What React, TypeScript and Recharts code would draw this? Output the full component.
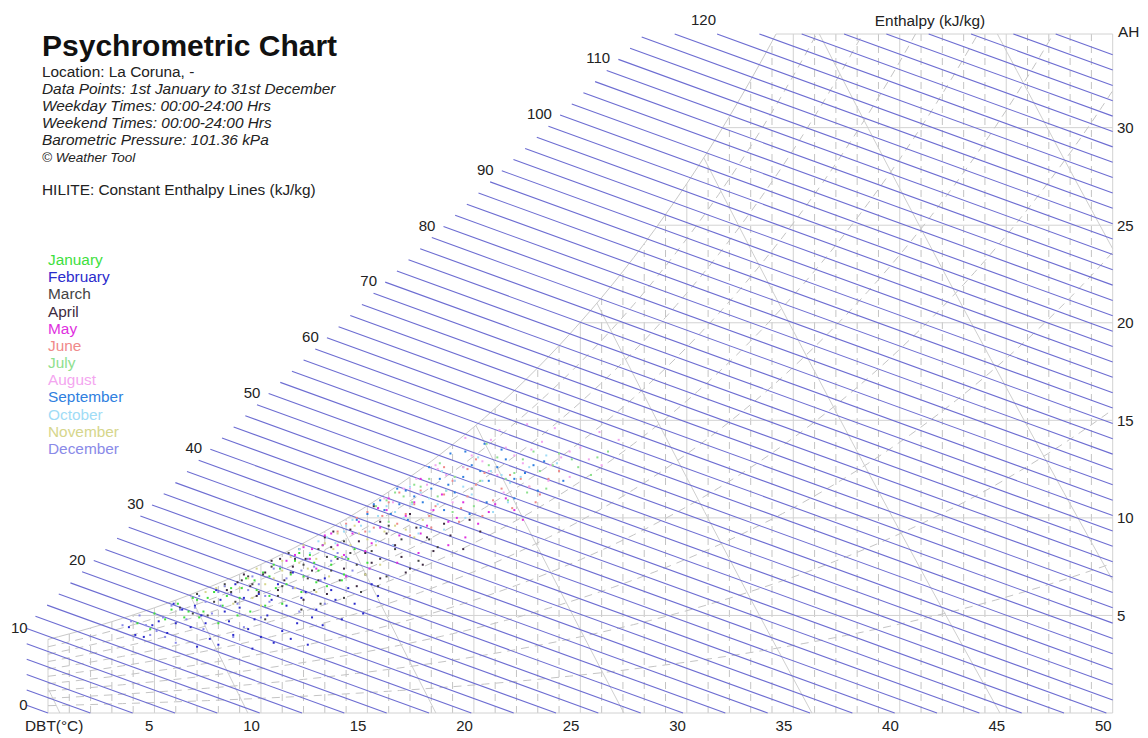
import React from "react";
import { ScatterChart, Scatter, XAxis, YAxis } from "recharts";

const W = 1148;
const H = 738;
const P_ATM = 101.36;
const T_MIN = -1;
const T_MAX = 50;
const W_MAX = 34.8;

const FONT = '"Liberation Sans", Arial, sans-serif';
const ENTH = "#6d6dd2";
const GRID = "#d2d2d2";
const DASHED = "#c4c4c4";
const TXT = 15.4;

const DBT_TICKS = [5, 10, 15, 20, 25, 30, 35, 40, 45, 50];
const AH_TICKS = [5, 10, 15, 20, 25, 30];
const ENTHALPY_LABELS = [0, 10, 20, 30, 40, 50, 60, 70, 80, 90, 100, 110, 120];
const ENTHALPY_STEP = 2;
const ENTHALPY_TOP = 136;
const RH_LEVELS = [10, 20, 30, 40, 50, 60, 70, 80, 90];
const VOLUME_LINES = [0.775, 0.8, 0.825, 0.85, 0.875, 0.9, 0.925, 0.95];

const INFO_LINES = [
  "Data Points: 1st January to 31st December",
  "Weekday Times: 00:00-24:00 Hrs",
  "Weekend Times: 00:00-24:00 Hrs",
  "Barometric Pressure: 101.36 kPa",
];

// [DBT °C, AH g/kg] read off the cloud, roughly
const JAN = [[4.2,4.6],[5.0,5.1],[5.5,4.8],[6.1,5.6],[6.4,4.9],[7.0,5.8],[7.3,5.2],[7.8,6.2],[8.2,5.5],[8.6,6.4],[9.0,5.9],[9.3,6.9],[9.8,6.3],[10.1,7.2],[10.4,6.0],[10.9,7.4],[11.2,6.6],[11.6,7.8],[12.0,7.0],[12.3,8.1],[12.7,7.3],[13.1,6.5],[13.5,8.0],[13.9,7.1],[14.4,8.4],[8.0,4.6],[9.5,5.2],[11.0,5.6],[6.8,5.9],[10.6,7.6],[12.9,8.6],[15.0,7.7],
  [4.8,4.3],[5.8,5.3],[6.6,5.2],[7.5,5.9],[8.4,6.0],[8.9,5.0],[9.7,6.8],[10.2,5.5],[10.7,6.4],[11.4,7.1],[11.9,6.2],[12.5,7.7],[13.3,7.6],[13.8,6.8],[14.1,7.9],[7.1,4.9],[9.1,6.4],[10.4,7.0],[11.8,8.2],[12.6,6.7]];
const FEB = [[3.8,4.4],[4.5,3.9],[5.2,4.7],[5.6,4.1],[6.3,5.3],[6.7,4.4],[7.2,5.0],[7.6,3.8],[8.1,5.8],[8.5,4.7],[9.0,5.4],[9.4,4.3],[9.9,6.1],[10.3,5.0],[10.8,6.6],[11.2,5.5],[11.7,4.6],[12.1,6.2],[12.6,5.3],[13.0,6.9],[13.5,5.8],[14.1,6.4],[14.8,5.1],[7.9,6.3],[10.0,3.9],[11.5,7.2],[5.9,5.6],[8.8,6.6],[15.5,6.0],[12.9,4.5],[9.6,3.3],[12.2,3.5],[7.0,3.4],
  [4.1,4.0],[4.9,4.5],[6.0,4.6],[6.9,5.5],[7.4,4.6],[8.3,5.2],[8.7,4.0],[9.2,5.9],[9.7,4.8],[10.5,5.8],[11.0,4.2],[11.9,5.9],[12.4,4.9],[13.3,6.3],[14.4,5.6],[10.6,3.6],[8.0,3.5],[13.8,4.8],[11.4,3.8],[15.2,6.6]];
const MAR = [[6.2,5.4],[7.0,6.1],[7.5,5.0],[8.3,6.6],[8.8,5.7],[9.4,7.0],[9.9,6.2],[10.5,7.5],[11.0,6.5],[11.6,7.9],[12.2,6.9],[12.7,8.4],[13.3,7.3],[13.9,8.8],[14.5,7.6],[15.2,8.3],[15.9,7.0],[16.6,8.9],[17.4,7.8],[18.3,8.5],[10.2,4.8],[12.8,5.6],[14.7,6.2],[9.1,6.8],[11.3,8.2],[16.0,9.6],
  [6.8,5.1],[7.8,5.7],[8.6,6.2],[9.6,6.6],[10.1,7.1],[10.8,6.0],[11.4,7.2],[12.0,7.6],[12.5,6.3],[13.1,8.0],[13.7,6.8],[14.2,8.2],[14.9,7.1],[15.6,7.9],[16.3,8.4],[17.0,7.4],[17.9,8.9],[11.9,5.3],[13.9,5.9],[15.5,6.5]];
const APR = [[8.4,6.3],[9.2,7.1],[9.8,6.0],[10.5,7.8],[11.1,6.8],[11.8,8.4],[12.4,7.3],[13.0,9.0],[13.6,7.9],[14.2,9.4],[14.9,8.2],[15.6,9.8],[16.3,8.6],[17.0,10.2],[17.8,9.0],[18.6,9.7],[19.5,8.4],[12.0,5.8],[14.5,6.5],[16.8,7.2],[10.9,7.9],[13.4,9.3],[15.3,10.6],[20.3,9.3],
  [8.9,6.7],[9.5,6.5],[10.2,7.2],[10.8,6.3],[11.5,7.5],[12.1,7.9],[12.7,6.8],[13.3,8.5],[13.9,7.4],[14.6,8.8],[15.2,7.7],[15.9,9.2],[16.6,8.0],[17.3,9.5],[18.1,8.3],[18.9,9.1],[19.8,9.9],[13.1,6.1],[15.6,6.9],[17.6,7.6]];
const MAY = [[11.2,7.8],[12.0,8.5],[12.6,7.4],[13.3,9.2],[13.9,8.1],[14.6,9.8],[15.2,8.7],[15.9,10.4],[16.5,9.1],[17.2,10.8],[17.8,9.6],[18.5,11.2],[19.2,10.0],[19.9,11.5],[20.7,10.3],[21.5,11.0],[14.0,7.0],[16.4,7.7],[18.8,8.6],[13.0,9.1],[15.5,10.5],[17.5,12.0],[22.3,9.9],[12.4,8.4],
  [11.6,8.1],[12.3,7.9],[12.9,8.6],[13.6,8.6],[14.3,9.2],[14.9,8.3],[15.6,9.5],[16.2,8.6],[16.8,10.1],[17.5,9.2],[18.1,10.4],[18.8,9.8],[19.5,10.8],[20.2,9.7],[21.0,10.7],[15.1,7.4],[17.4,8.2],[19.6,9.0],[16.0,11.0],[21.9,10.4]];
const JUN = [[13.6,9.3],[14.5,10.0],[15.3,9.5],[16.0,10.8],[16.8,10.2],[17.5,11.4],[18.2,10.6],[19.0,11.9],[19.7,11.1],[20.5,12.3],[21.3,11.5],[22.2,12.0],[23.1,11.2],[17.0,9.1],[19.3,9.8],[21.8,10.5],[15.0,10.3],[18.6,12.6],[24.0,12.4],[20.1,13.0],
  [14.0,9.7],[14.9,9.3],[15.7,10.1],[16.4,9.7],[17.2,10.7],[17.9,10.1],[18.6,11.2],[19.4,10.5],[20.1,11.7],[20.9,10.9],[21.7,12.2],[22.6,11.6],[23.5,12.0],[18.0,9.5],[20.4,10.1],[16.5,11.3],[19.7,12.5],[22.9,10.8]];
const JUL = [[15.4,10.6],[16.3,11.3],[17.1,10.8],[17.9,12.0],[18.7,11.4],[19.5,12.6],[20.3,11.9],[21.1,13.1],[21.9,12.3],[22.8,13.4],[23.7,12.7],[24.6,13.0],[25.5,12.2],[19.0,10.3],[21.6,10.9],[23.4,11.5],[17.2,11.7],[20.6,13.8],[16.0,9.8],[26.3,13.4],
  [15.9,10.9],[16.7,11.1],[17.5,11.6],[18.3,11.1],[19.1,12.1],[19.9,11.5],[20.7,12.7],[21.5,12.0],[22.3,13.0],[23.1,12.4],[24.0,13.3],[24.9,12.6],[20.0,10.6],[22.5,11.3],[18.4,12.8],[25.8,13.1]];
const AUG = [[15.8,11.0],[16.7,11.5],[17.5,11.2],[18.3,12.5],[19.1,11.9],[19.9,13.2],[20.7,12.4],[21.5,13.6],[22.3,12.8],[23.2,13.9],[24.1,13.1],[25.0,13.6],[26.0,12.7],[18.0,10.4],[20.2,10.9],[22.6,11.6],[24.5,12.1],[17.3,12.0],[19.6,14.1],[21.2,14.5],[23.8,14.6],[26.8,14.0],
  [16.2,10.8],[17.0,11.5],[17.8,11.7],[18.7,12.2],[19.5,12.6],[20.4,12.9],[21.1,12.2],[21.9,13.2],[22.7,13.5],[23.6,12.7],[24.5,13.4],[25.4,13.0],[19.0,10.8],[21.4,11.3],[23.5,11.9],[18.2,12.7],[20.8,14.0],[22.5,14.8],[25.9,14.4]];
const SEP = [[14.5,9.9],[15.3,10.7],[16.1,10.2],[16.8,11.4],[17.6,10.8],[18.4,12.0],[19.1,11.3],[19.9,12.7],[20.7,11.9],[21.5,13.0],[22.4,12.3],[23.3,12.9],[17.5,9.5],[19.8,10.2],[21.9,11.0],[15.6,10.9],[18.9,13.3],[24.2,11.9],[16.4,11.5],[20.5,13.8],
  [15.0,10.2],[15.8,10.4],[16.5,10.7],[17.2,11.1],[18.0,11.5],[18.8,11.7],[19.5,12.1],[20.3,12.4],[21.1,12.6],[21.9,12.0],[22.8,12.7],[16.9,9.9],[18.6,10.4],[20.6,10.8],[23.0,11.4],[17.9,12.6],[19.6,13.4],[21.3,13.5]];
const OCT = [[11.8,8.4],[12.7,8.8],[13.5,8.7],[14.3,9.9],[15.1,9.3],[15.9,10.6],[16.7,10.0],[17.5,11.3],[18.3,10.7],[19.1,11.9],[19.9,11.2],[20.8,12.4],[21.7,11.8],[22.6,12.6],[16.2,8.6],[18.6,9.4],[20.9,10.3],[14.0,9.6],[17.0,11.6],[23.4,13.2],
  [12.3,8.2],[13.1,9.0],[13.9,9.3],[14.7,9.6],[15.5,10.1],[16.3,10.3],[17.1,10.7],[17.9,11.0],[18.7,11.4],[19.5,11.6],[20.4,11.9],[21.3,12.2],[22.2,12.1],[15.4,8.8],[17.4,9.2],[19.6,10.0],[21.6,10.8],[18.5,12.4],[20.2,13.1],[23.9,12.8]];
const NOV = [[7.4,6.2],[8.3,6.5],[9.0,6.4],[9.8,7.4],[10.6,6.9],[11.4,8.0],[12.2,7.4],[13.0,8.7],[13.8,8.0],[14.6,9.2],[15.4,8.6],[16.3,9.6],[17.2,9.0],[10.0,5.5],[12.6,6.2],[14.9,7.1],[11.0,7.8],[13.6,9.2],[18.0,10.1],[8.7,5.6],
  [7.9,6.4],[8.6,6.1],[9.4,6.9],[10.2,6.6],[11.0,7.3],[11.8,7.7],[12.6,7.9],[13.4,8.4],[14.2,8.6],[15.0,8.9],[15.8,9.3],[16.8,9.4],[9.6,5.9],[11.6,6.4],[13.2,7.0],[15.6,7.6],[12.0,8.6],[14.4,9.6],[17.6,9.9]];
const DEC = [[3.5,4.5],[4.3,5.0],[5.1,4.2],[5.8,5.5],[6.5,4.8],[7.1,6.0],[7.7,5.1],[8.3,6.5],[8.9,5.6],[9.6,7.0],[10.2,6.0],[10.9,7.5],[11.5,6.4],[12.2,7.9],[12.8,6.8],[13.6,8.2],[14.3,7.3],[6.0,3.6],[9.2,4.4],[11.8,5.2],[4.8,4.0],[8.0,6.2],[10.6,7.4],[13.0,5.6],
  [3.9,4.7],[4.6,4.5],[5.4,4.9],[6.2,5.3],[6.9,5.4],[7.4,5.7],[8.1,5.5],[8.6,6.1],[9.4,6.3],[9.9,6.6],[10.4,5.7],[11.2,6.9],[11.9,7.3],[12.5,7.5],[13.3,7.8],[14.0,8.0],[7.3,4.3],[10.0,4.9],[12.4,6.1],[5.5,3.9],[8.7,3.9]];

const MONTHS = [
  { name: "January", color: "#3ee03e", pts: JAN },
  { name: "February", color: "#2b2bcc", pts: FEB },
  { name: "March", color: "#444444", pts: MAR },
  { name: "April", color: "#3d2a40", pts: APR },
  { name: "May", color: "#e030e0", pts: MAY },
  { name: "June", color: "#f08a8a", pts: JUN },
  { name: "July", color: "#8ee08e", pts: JUL },
  { name: "August", color: "#f4a6f0", pts: AUG },
  { name: "September", color: "#2f7fe0", pts: SEP },
  { name: "October", color: "#9fdcf6", pts: OCT },
  { name: "November", color: "#d6d68c", pts: NOV },
  { name: "December", color: "#8a8ae8", pts: DEC },
];

type Pt = { T: number; w: number; lab?: string; kind?: string };

// psychrometrics (w in g/kg)
const pws = (T: number) => 0.61094 * Math.exp((17.625 * T) / (T + 243.04));
const wFromP = (p: number) => (622 * p) / (P_ATM - p);
const wSat = (T: number) => wFromP(pws(T));
function tDew(w: number) {
  const p = (P_ATM * w) / (622 + w);
  const a = Math.log(p / 0.61094);
  return (243.04 * a) / (17.625 - a);
}
const wOnH = (h: number, T: number) => (h - 1.006 * T) / 2.54;
const tOnH = (h: number, w: number) => (h - 2.54 * w) / 1.006;
const wOnV = (v: number, T: number) => ((v * P_ATM) / (0.287 * (T + 273.15)) - 1) / 1.6078 * 1000;

function enthalpyStart(h: number): Pt & { clip: string } {
  const s = (h - 20.67) / 10.02;
  let T = 1.784 + 2.743 * s;
  let w = 7.432 + 2.86 * s;
  let clip = "diag";
  if (T < T_MIN) { T = T_MIN; w = wOnH(h, T); clip = "left"; }
  if (w > W_MAX) { w = W_MAX; T = tOnH(h, w); clip = "top"; }
  return { T, w, clip };
}
function enthalpyEnd(h: number): Pt {
  const T0 = h / 1.006;
  if (T0 <= T_MAX) return { T: T0, w: 0 };
  return { T: T_MAX, w: wOnH(h, T_MAX) };
}

function rhCurve(rh: number): Pt[] {
  const pts: Pt[] = [];
  const f = (T: number) => wFromP((rh / 100) * pws(T));
  for (let T = 0; T <= T_MAX + 1e-9; T += 0.5) {
    const w = f(T);
    if (w > W_MAX) {
      let lo = T - 0.5, hi = T;
      for (let i = 0; i < 30; i++) { const m = (lo + hi) / 2; if (f(m) > W_MAX) hi = m; else lo = m; }
      pts.push({ T: lo, w: W_MAX });
      break;
    }
    pts.push({ T, w });
  }
  return pts;
}

function volumeLine(v: number): Pt[] {
  const T0 = (v * P_ATM) / 0.287 - 273.15;
  const tEnd = Math.min(T0, T_MAX);
  const g = (T: number) => wOnV(v, T) - Math.min(wSat(T), W_MAX);
  let tStart = 0;
  if (g(0) > 0) {
    let lo = 0, hi = tEnd;
    for (let i = 0; i < 40; i++) { const m = (lo + hi) / 2; if (g(m) > 0) lo = m; else hi = m; }
    tStart = hi;
  }
  const pts: Pt[] = [];
  for (let i = 0; i <= 12; i++) {
    const T = tStart + ((tEnd - tStart) * i) / 12;
    pts.push({ T, w: Math.max(0, wOnV(v, T)) });
  }
  return pts;
}

type LineDef = { key: string; pts: Pt[]; stroke: string; width: number; dash?: string };

function buildLines(): LineDef[] {
  const out: LineDef[] = [];
  for (let T = 0; T <= T_MAX; T++) {
    const top = Math.min(wSat(T), W_MAX);
    const solid = T % 5 === 0;
    out.push({ key: `v${T}`, pts: [{ T, w: 0 }, { T, w: top }], stroke: solid ? GRID : DASHED, width: 1, dash: solid ? undefined : "7 5" });
  }
  [0, ...AH_TICKS, W_MAX].forEach((w) => {
    const t0 = w === 0 ? 0 : tDew(w);
    out.push({ key: `h${w}`, pts: [{ T: t0, w }, { T: T_MAX, w }], stroke: GRID, width: 1 });
  });
  RH_LEVELS.forEach((rh) => out.push({ key: `rh${rh}`, pts: rhCurve(rh), stroke: DASHED, width: 1, dash: "8 6" }));
  out.push({ key: "sat", pts: rhCurve(100), stroke: "#c8c8c8", width: 1 });
  VOLUME_LINES.forEach((v) => out.push({ key: `vol${v}`, pts: volumeLine(v), stroke: "#cfcfcf", width: 1 }));
  for (let h = 0; h <= ENTHALPY_TOP; h += ENTHALPY_STEP) {
    const s = enthalpyStart(h);
    const e = enthalpyEnd(h);
    out.push({ key: `en${h}`, pts: [{ T: s.T, w: s.w }, e], stroke: ENTH, width: 1.1 });
  }
  return out;
}

const LINES = buildLines();
const LABEL_PTS = ENTHALPY_LABELS.map((h) => {
  const s = enthalpyStart(h);
  return { T: s.T, w: s.w, lab: String(h), kind: s.clip };
});

const noShape = () => <g />;

function EnthalpyLabel(p: any) {
  const d = p.payload || p;
  let x = p.cx + 3.5, y = p.cy - 7;
  if (d.kind === "left") { x = p.cx + 1; y = p.cy + 5; }
  if (d.kind === "top") { x = p.cx - 1; y = p.cy - 9; }
  return (
    <text x={x} y={y} textAnchor="end" fontSize={15} fontFamily={FONT} fill="#222">{d.lab}</text>
  );
}

function XTick(p: any) {
  return (
    <text x={p.x - 1} y={731} textAnchor="end" fontSize={15} fontFamily={FONT} fill="#222">{p.payload.value}</text>
  );
}

function YTick(p: any) {
  return (
    <text x={1117} y={p.y + 5.5} textAnchor="start" fontSize={15} fontFamily={FONT} fill="#222">{p.payload.value}</text>
  );
}

export default function App() {
  return (
    <div style={{ position: "absolute", left: 0, top: 0, width: W, height: H, background: "#fff" }}>
      <ScatterChart width={W} height={H} margin={{ top: 34, right: 0, bottom: 0, left: 26.7 }}>
        <XAxis type="number" dataKey="T" domain={[T_MIN, T_MAX]} ticks={DBT_TICKS} interval={0}
          height={25} axisLine={false} tickLine={false} tick={XTick} />
        <YAxis type="number" dataKey="w" domain={[0, W_MAX]} ticks={AH_TICKS} interval={0}
          orientation="right" width={35.3} axisLine={false} tickLine={false} tick={YTick} />
        {LINES.map((l) => (
          <Scatter key={l.key} data={l.pts} fill={l.stroke} shape={noShape} isAnimationActive={false}
            line={{ stroke: l.stroke, strokeWidth: l.width, strokeDasharray: l.dash }} />
        ))}
        {MONTHS.map((m) => (
          <Scatter key={m.name} data={m.pts.map(([T, w]) => ({ T, w }))} fill={m.color} isAnimationActive={false}
            shape={(p: any) => <rect x={p.cx - 1} y={p.cy - 1} width={2} height={2} fill={m.color} />} />
        ))}
        <Scatter data={LABEL_PTS} fill="#222" shape={EnthalpyLabel} isAnimationActive={false} />
      </ScatterChart>

      <svg width={W} height={H} style={{ position: "absolute", left: 0, top: 0, pointerEvents: "none" }}
        fontFamily={FONT}>
        <text x={42} y={56} fontSize={30} fontWeight="bold" fill="#111">Psychrometric Chart</text>
        <text x={42} y={77} fontSize={TXT} fill="#222">Location: La Coruna, -</text>
        {INFO_LINES.map((t, i) => (
          <text key={t} x={42} y={94 + i * 17} fontSize={TXT} fontStyle="italic" fill="#222">{t}</text>
        ))}
        <text x={42} y={161.5} fontSize={13.5} fontStyle="italic" fill="#222">© Weather Tool</text>
        <text x={42} y={195} fontSize={TXT} fill="#222">HILITE: Constant Enthalpy Lines (kJ/kg)</text>
        {MONTHS.map((m, i) => (
          <text key={m.name} x={48} y={265 + i * 17.18} fontSize={TXT} fill={m.color}>{m.name}</text>
        ))}
        <text x={930} y={26} fontSize={TXT} textAnchor="middle" fill="#222">Enthalpy (kJ/kg)</text>
        <text x={1118} y={37} fontSize={TXT} fill="#222">AH</text>
        <text x={25} y={731} fontSize={TXT} fill="#222">DBT(°C)</text>
      </svg>
    </div>
  );
}
